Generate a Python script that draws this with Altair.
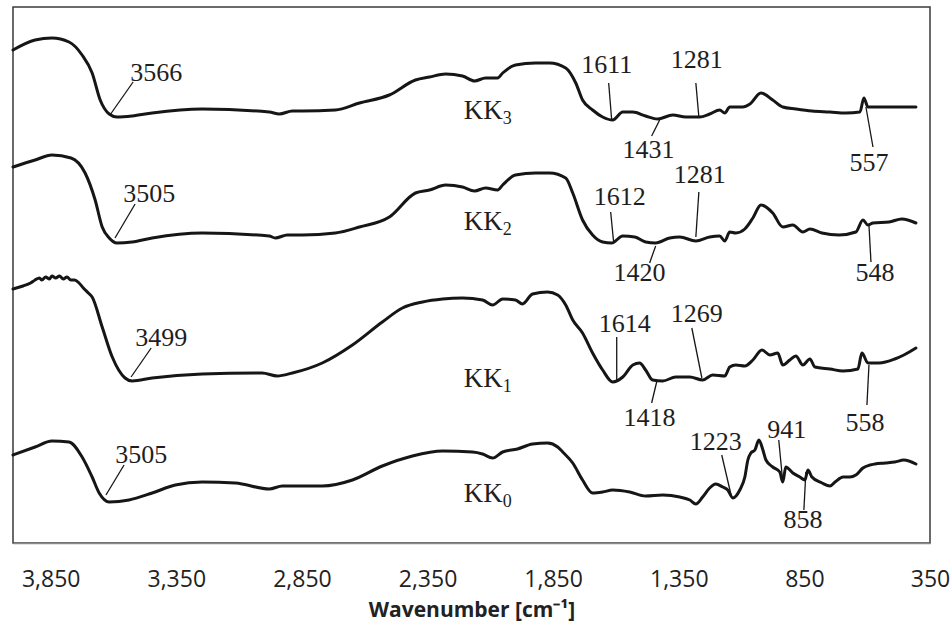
import altair as alt
import pandas as pd

# ---- Spectra: wavenumber (cm-1) and stacked transmittance (a.u., offset per sample) ----
kk3_wn = [4000, 3912, 3845, 3777, 3725, 3685, 3653, 3617, 3586, 3526, 3446, 3247, 2980, 2940, 2888,
          2848, 2717, 2621, 2502, 2398, 2342, 2278, 2211, 2163, 2119, 2071, 2051, 2000, 1920, 1864,
          1800, 1760, 1733, 1693, 1653, 1613, 1573, 1533, 1482, 1434, 1374, 1322, 1267, 1227, 1187,
          1167, 1147, 1095, 1067, 1023, 976, 936, 884, 820, 748, 685, 629, 613, 597, 553, 406]
kk3_t = [493, 503, 505, 501, 488, 470, 443, 429, 426, 427, 430, 434, 431, 429, 432,
         432, 433, 440, 448, 463, 466, 469, 467, 462, 465, 465, 470, 478, 480, 480,
         475, 460, 443, 433, 426, 423, 431, 431, 427, 424, 428, 426, 426, 429, 433,
         430, 436, 436, 439, 450, 443, 436, 434, 432, 431, 430, 431, 445, 436, 436, 436]

kk2_wn = [4000, 3912, 3845, 3769, 3713, 3673, 3645, 3617, 3586, 3526, 3446, 3247, 2980, 2956, 2908,
          2848, 2717, 2621, 2502, 2398, 2342, 2278, 2211, 2163, 2119, 2071, 2051, 2000, 1920, 1864,
          1800, 1772, 1733, 1693, 1653, 1617, 1573, 1525, 1482, 1442, 1386, 1346, 1282, 1227, 1187,
          1167, 1147, 1123, 1087, 1055, 1023, 976, 936, 896, 856, 828, 780, 712, 645, 617, 597,
          577, 513, 462, 406]
kk2_t = [376, 383, 388, 385, 370, 343, 316, 305, 300, 301, 305, 310, 307, 305, 308,
         308, 310, 316, 326, 350, 353, 358, 356, 352, 355, 353, 358, 368, 370, 370,
         365, 350, 323, 308, 301, 300, 307, 306, 301, 300, 305, 306, 302, 306, 307,
         302, 311, 310, 314, 325, 338, 330, 316, 318, 311, 314, 310, 308, 311, 323, 318,
         320, 321, 324, 320]

kk1_wn = [4000, 3960, 3930, 3912, 3895, 3885, 3870, 3855, 3845, 3830, 3815, 3800, 3785, 3770, 3755,
          3737, 3720, 3700, 3685, 3645, 3605, 3554, 3526, 3446, 3247, 3008, 2948, 2888, 2769, 2649,
          2530, 2450, 2370, 2290, 2211, 2131, 2091, 2051, 2000, 1972, 1932, 1872, 1832, 1800, 1772,
          1733, 1693, 1653, 1613, 1573, 1533, 1506, 1482, 1454, 1414, 1362, 1306, 1255, 1215, 1167,
          1147, 1123, 1087, 1055, 1019, 987, 956, 936, 908, 884, 856, 828, 808, 748, 696, 637, 621,
          597, 553, 490, 454, 406]
kk1_t = [254, 257, 260, 263, 265, 263, 266, 264, 267, 265, 267, 264, 266, 263, 263,
         260, 255, 250, 246, 216, 186, 165, 162, 165, 169, 170, 167, 170, 180, 198,
         221, 235, 241, 244, 245, 243, 238, 244, 243, 239, 249, 251, 248, 238, 223,
         210, 190, 173, 161, 166, 178, 180, 173, 163, 162, 166, 166, 163, 168, 167,
         176, 178, 177, 183, 193, 188, 190, 178, 183, 187, 178, 184, 176, 174, 172, 174, 190,
         180, 180, 184, 188, 195]

kk0_wn = [4000, 3912, 3845, 3777, 3725, 3685, 3657, 3617, 3538, 3446, 3354, 3247, 3115, 2980, 2928,
          2769, 2649, 2530, 2410, 2290, 2171, 2131, 2091, 2051, 1992, 1932, 1872, 1832, 1812, 1772,
          1733, 1693, 1653, 1613, 1545, 1482, 1414, 1346, 1306, 1282, 1255, 1227, 1203, 1175, 1155,
          1135, 1107, 1087, 1075, 1063, 1047, 1031, 1015, 1003, 976, 948, 936, 924, 896, 868, 848,
          836, 820, 780, 748, 728, 696, 669, 645, 617, 589, 569, 529, 490, 454, 406]
kk0_t = [88, 96, 102, 101, 86, 66, 50, 41, 43, 50, 58, 61, 60, 54, 57,
         57, 63, 77, 87, 92, 91, 89, 85, 91, 94, 99, 100, 96, 91, 80,
         63, 50, 51, 53, 51, 47, 48, 46, 43, 39, 46, 55, 59, 56, 53,
         45, 53, 66, 83, 90, 93, 103, 93, 83, 76, 71, 61, 76, 70, 66, 63,
         73, 66, 60, 57, 61, 66, 66, 68, 75, 78, 79, 80, 81, 83, 79]

series_names = ["KK3", "KK2", "KK1", "KK0"]
series_wn = [kk3_wn, kk2_wn, kk1_wn, kk0_wn]
series_t = [kk3_t, kk2_t, kk1_t, kk0_t]

# ---- Peak annotations ----
peak_text = ["3566", "1611", "1281", "1431", "557",
             "3505", "1612", "1281", "1420", "548",
             "3499", "1614", "1269", "1418", "558",
             "3505", "1223", "941", "858"]
peak_text_wn = [3430, 1637, 1278, 1470, 593,
                3458, 1585, 1266, 1506, 569,
                3410, 1565, 1278, 1466, 609,
                3490, 1203, 920, 856]
peak_text_t = [462, 470, 475, 385, 372,
               341, 338, 360, 262, 262,
               197, 211, 221, 117, 112,
               80, 93, 105, 15]
lead_wn1 = [3522, 1629, 1282, 1426, 605, 3514, 1621, 1270, 1442, 593, 3450, 1597, 1298, 1438, 593, 3558, 1179, 952, 844]
lead_t1 = [461, 460, 460, 423, 436, 339, 331, 351, 297, 318, 195, 206, 215, 161, 178, 78, 88, 103, 71]
lead_wn2 = [3614, 1617, 1270, 1458, 577, 3594, 1609, 1282, 1466, 585, 3530, 1597, 1258, 1458, 601, 3630, 1139, 936, 852]
lead_t2 = [428, 423, 426, 407, 396, 305, 300, 306, 280, 281, 166, 163, 165, 140, 138, 48, 45, 61, 33]

# ---- Sample labels (KK with subscript) ----
sample_main = ["KK", "KK", "KK", "KK"]
sample_sub = ["3", "2", "1", "0"]
sample_wn = [2051, 2051, 2051, 2051]
sample_t = [424, 313, 156, 41]

tick_values = [3850, 3350, 2850, 2350, 1850, 1350, 850, 350]

# ---- Tables ----
rows = []
for name, w, t in zip(series_names, series_wn, series_t):
    for i, (a, b) in enumerate(zip(w, t)):
        rows.append({"series": name, "wn": a, "t": b, "order": i})
spec_df = pd.DataFrame(rows)

peaks_df = pd.DataFrame({"label": peak_text, "wn": peak_text_wn, "t": peak_text_t})
lead_df = pd.DataFrame({"wn": lead_wn1, "t": lead_t1, "x2": lead_wn2, "y2": lead_t2})
samp_df = pd.DataFrame({"main": sample_main, "sub": sample_sub, "wn": sample_wn, "t": sample_t})

x_scale = alt.Scale(domain=[350, 4000], reverse=True, nice=False, zero=False)
y_scale = alt.Scale(domain=[0, 536], nice=False, zero=False)

x_axis = alt.Axis(
    values=tick_values, labelExpr="format(datum.value, ',')", title="Wavenumber [cm⁻¹]",
    ticks=False, tickSize=0, grid=False,
    labelFont="Open Sans", labelFontSize=23, labelColor="#222222",
    labelBaseline="alphabetic", labelPadding=43, labelFlush=False, labelOverlap=False,
    domainColor="#8a8a8a", domainWidth=1.5,
    titleFont="Open Sans", titleFontSize=21, titleFontWeight="bold", titleColor="#222222",
    titleBaseline="alphabetic", titleY=73,
)

X = alt.X("wn:Q", scale=x_scale, axis=x_axis, title="Wavenumber [cm⁻¹]")
Y = alt.Y("t:Q", scale=y_scale, axis=None)

lines = alt.Chart(spec_df).mark_line(
    color="#161616", strokeWidth=3, strokeJoin="round", strokeCap="round", interpolate="monotone"
).encode(x=X, y=Y, detail="series:N", order="order:Q")

leaders = alt.Chart(lead_df).mark_rule(color="#161616", strokeWidth=1.3).encode(
    x=X, x2="x2:Q", y=Y, y2="y2:Q",
)

peak_labels = alt.Chart(peaks_df).mark_text(
    font="Liberation Serif", fontSize=26, color="#1e1e1e", align="center", baseline="alphabetic"
).encode(x=X, y=Y, text="label:N")

samp_main = alt.Chart(samp_df).mark_text(
    font="Liberation Serif", fontSize=27, color="#1e1e1e", align="right", baseline="alphabetic"
).encode(x=X, y=Y, text="main:N")

samp_sub = alt.Chart(samp_df).mark_text(
    font="Liberation Serif", fontSize=18, color="#1e1e1e", align="left", baseline="alphabetic", dy=5
).encode(x=X, y=Y, text="sub:N")

chart = alt.layer(lines, leaders, peak_labels, samp_main, samp_sub).properties(
    width=917, height=536,
    padding={"left": 11, "top": 7, "right": 0, "bottom": 8},
    background="white",
).configure_view(stroke="#3a3a3a", strokeWidth=1.5)

chart.save("out.html", embed_options={"renderer": "svg", "actions": False})
